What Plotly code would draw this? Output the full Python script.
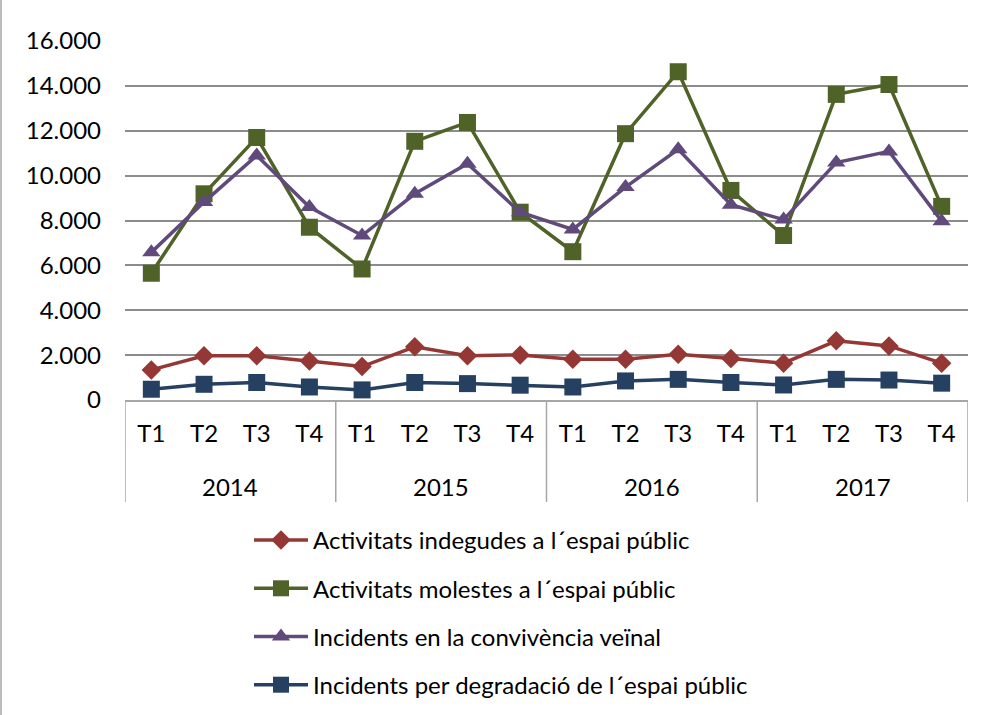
import plotly.graph_objects as go

years = ["2014", "2015", "2016", "2017"]
quarters = ["T1", "T2", "T3", "T4"]

indegudes = [1340, 1970, 1970, 1740, 1490, 2370, 1970, 2010,
             1820, 1820, 2040, 1850, 1640, 2640, 2410, 1640]
molestes = [5650, 9190, 11700, 7700, 5840, 11530, 12370, 8370,
            6610, 11870, 14630, 9340, 7330, 13620, 14060, 8630]
convivencia = [6580, 8820, 10900, 8600, 7330, 9190, 10530, 8370,
               7600, 9490, 11170, 8700, 8040, 10580, 11080, 7970]
degradacio = [480, 700, 780, 580, 450, 780, 730, 660,
              580, 850, 920, 780, 670, 920, 890, 750]

names = ["Activitats indegudes a l´espai públic",
         "Activitats molestes a l´espai públic",
         "Incidents en la convivència veïnal",
         "Incidents per degradació de l´espai públic"]
colors = ["#953735", "#4F6228", "#604A7B", "#254061"]
symbols = ["diamond", "square", "triangle-up", "square"]
sizes = [15, 17, 16, 17]

categories = [f"{y} {q}" for y in years for q in quarters]
tick_text = [q for _ in years for q in quarters]

FONT = "Lato"
FS = 24
AXC = "#A6A6A6"

fig = go.Figure()
for i, vals in enumerate([indegudes, molestes, convivencia, degradacio]):
    fig.add_trace(go.Scatter(
        x=categories, y=vals, name=names[i], mode="lines+markers",
        line=dict(color=colors[i], width=3.5),
        marker=dict(symbol=symbols[i], size=sizes[i], color=colors[i]),
        legendgroup=str(i),
    ))

# paper fraction helper for the pixel layout (top margin 41, bottom margin 10)
H, MT, MB = 715, 41, 10
def py(px):
    return (H - MB - px) / (H - MT - MB)

fig.update_layout(
    width=982, height=H,
    margin=dict(l=125, r=14, t=MT, b=MB, autoexpand=False),
    paper_bgcolor="white", plot_bgcolor="white",
    separators=",.",
    font=dict(family=FONT, size=FS, color="#000000"),
    showlegend=True,
    legend=dict(x=0.1471, y=py(518), xanchor="left", yanchor="top",
                orientation="v", tracegroupgap=14, itemwidth=54,
                font=dict(family=FONT, size=FS), bgcolor="rgba(0,0,0,0)"),
    xaxis=dict(type="category", categoryorder="array", categoryarray=categories,
               range=[-0.5, len(categories) - 0.5], automargin=False,
               tickmode="array", tickvals=categories, ticktext=tick_text,
               showgrid=False, showline=True, linecolor=AXC, linewidth=1.5,
               ticks="", ticklabelstandoff=11,
               tickfont=dict(family=FONT, size=FS)),
    yaxis=dict(domain=[py(400), 1], range=[0, 16000], dtick=2000, tickformat=",d",
               automargin=False,
               showgrid=True, gridcolor="#8C8C8C", gridwidth=1.5,
               zeroline=False, showline=False, ticks="", ticklabelstandoff=23,
               tickfont=dict(family=FONT, size=FS)),
)

# year group labels and divider lines of the two-level category axis
n_q = len(quarters)
for k, yr in enumerate(years):
    fig.add_annotation(x=k * n_q + (n_q - 1) / 2, y=py(486), xref="x", yref="paper",
                       text=yr, showarrow=False, font=dict(family=FONT, size=FS),
                       yanchor="middle")
for k in range(len(years) + 1):
    fig.add_shape(type="line", xref="x", yref="paper",
                  x0=k * n_q - 0.5, x1=k * n_q - 0.5, y0=py(400), y1=py(502),
                  line=dict(color=AXC, width=1.5))

# chart border (left edge visible)
fig.add_shape(type="line", xref="paper", yref="paper",
              x0=(1 - 125) / 843, x1=(1 - 125) / 843, y0=py(715), y1=py(0),
              line=dict(color=AXC, width=1.5))

fig.write_html("out.html", config={"displayModeBar": False},
               post_script="document.body.style.margin='0';")
